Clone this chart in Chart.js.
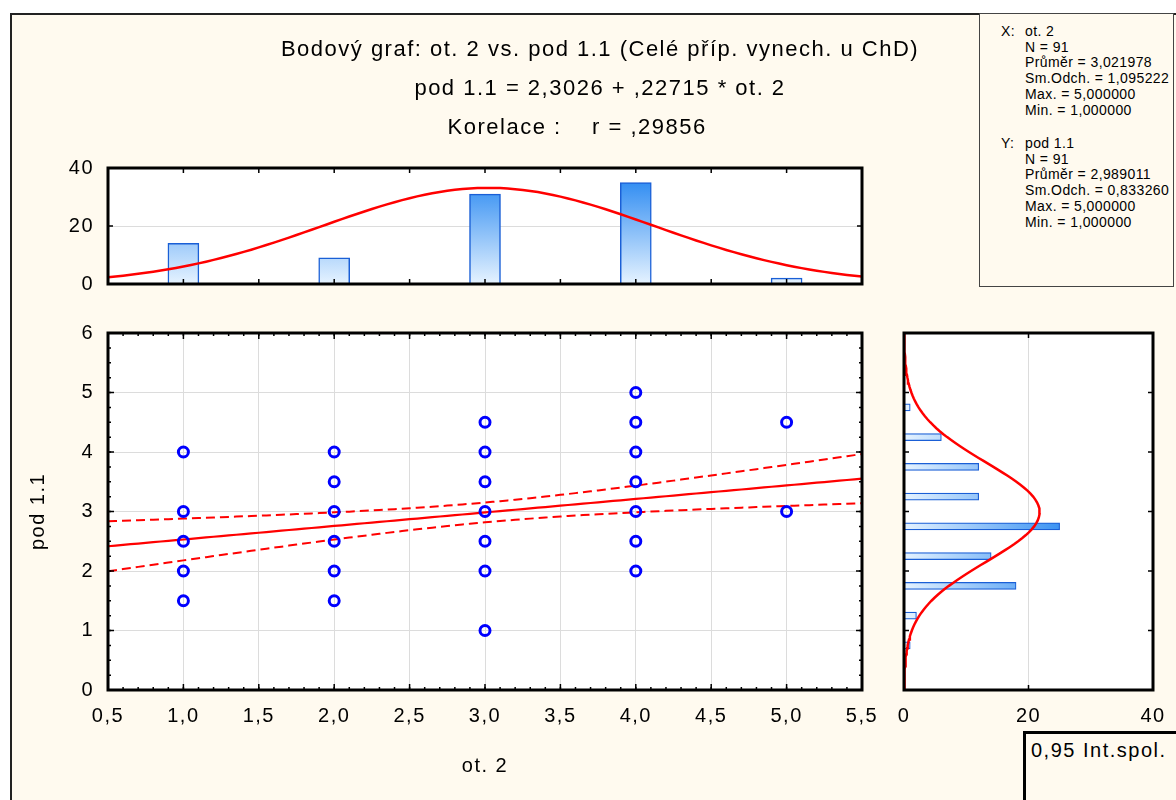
<!DOCTYPE html>
<html>
<head>
<meta charset="utf-8">
<script src="https://cdn.jsdelivr.net/npm/chart.js@4.4.0/dist/chart.umd.min.js"></script>
<style>
  body { margin: 0; width: 1176px; height: 800px; overflow: hidden; position: relative; background: #fff;
         font-family: "Liberation Sans", Arial, sans-serif; }
  #panel { position: absolute; left: 10px; top: 13px; width: 1166px; height: 787px; background: #fffaef;
           border-left: 2px solid #222; border-top: 2px solid #222; box-sizing: border-box; }
  canvas { position: absolute; }
  #stats { position: absolute; left: 979px; top: 13px; width: 195px; height: 274px; box-sizing: border-box;
           border: 1px solid #444; background: #fffaef; overflow: hidden; font-size: 14px; letter-spacing: 0.4px;
           line-height: 15.7px; white-space: nowrap; z-index: 2; }
  #stats .lab { position: absolute; left: 21px; }
  #stats .val { position: absolute; left: 45px; }
  #legendBox { position: absolute; left: 1023px; top: 731px; width: 153px; height: 69px; box-sizing: border-box;
               border-left: 3px solid #000; border-top: 3px solid #000; background: #fffaef;
               font-size: 20px; letter-spacing: 1.5px; line-height: 24px; padding: 4px 0 0 5px; z-index: 2; }
</style>
</head>
<body>
<div id="panel"></div>
<canvas id="topHist" width="1160" height="290" style="left:20px;top:14px"></canvas>
<canvas id="scatter" width="880" height="500" style="left:0;top:300px"></canvas>
<canvas id="rightHist" width="296" height="500" style="left:880px;top:300px"></canvas>
<div id="stats">
  <div class="lab" style="top:10px">X:</div>
  <div class="val" id="statX" style="top:10px"></div>
  <div class="lab" style="top:122px">Y:</div>
  <div class="val" id="statY" style="top:122px"></div>
</div>
<div id="legendBox">0,95 Int.spol.</div>
<script>
// values
const xValues = [1, 2, 3, 4, 5];
const xCounts = [14, 9, 31, 35, 2];
const yBinCenters = [0.75, 1.25, 1.75, 2.25, 2.75, 3.25, 3.75, 4.25, 4.75];
const yCounts = [1, 2, 18, 14, 25, 12, 12, 6, 1];
const pointX = [1, 1, 1, 1, 1,  2, 2, 2, 2, 2, 2,  3, 3, 3, 3, 3, 3, 3,  4, 4, 4, 4, 4, 4, 4,  5, 5];
const pointY = [4, 3, 2.5, 2, 1.5,  4, 3.5, 3, 2.5, 2, 1.5,  4.5, 4, 3.5, 3, 2.5, 2, 1,  5, 4.5, 4, 3.5, 3, 2.5, 2,  4.5, 3];

// statistics printed on the chart
const nObs = 91;
const xMean = 3.021978, xSd = 1.095222, xMax = 5, xMin = 1;
const yMean = 2.989011, ySd = 0.833260, yMax = 5, yMin = 1;
const intercept = 2.3026, slope = 0.22715, corr = 0.29856;
const xBinWidth = 1, yBinWidth = 0.5;
const tCrit = 1.987;

const titleLines = [
  "Bodový graf: ot. 2 vs. pod 1.1 (Celé příp. vynech. u ChD)",
  "pod 1.1 = 2,3026 + ,22715 * ot. 2",
  "Korelace :    r = ,29856      "
];

const comma = (v, d) => v.toFixed(d).replace(".", ",");
const statLines = (name, mean, sd, max, min) =>
  [name, "N = " + nObs, "Průměr = " + comma(mean, 6), "Sm.Odch. = " + comma(sd, 6),
   "Max. = " + comma(max, 6), "Min. = " + comma(min, 6)].join("<br>");
document.getElementById("statX").innerHTML = statLines("ot. 2", xMean, xSd, xMax, xMin);
document.getElementById("statY").innerHTML = statLines("pod 1.1", yMean, ySd, yMax, yMin);

// fitted curves
const normal = (v, m, s, scale) => scale * Math.exp(-((v - m) ** 2) / (2 * s * s));
const xPeak = nObs * xBinWidth / (xSd * Math.sqrt(2 * Math.PI));
const yPeak = nObs * yBinWidth / (ySd * Math.sqrt(2 * Math.PI));
const xSamples = Array.from({ length: 101 }, (_, i) => 0.5 + i * 0.05);
const ySamples = Array.from({ length: 121 }, (_, i) => i * 0.05);
const sRes = ySd * Math.sqrt((1 - corr * corr) * (nObs - 1) / (nObs - 2));
const sxx = (nObs - 1) * xSd * xSd;
const fit = x => intercept + slope * x;
const band = x => tCrit * sRes * Math.sqrt(1 / nObs + (x - xMean) ** 2 / sxx);

Chart.defaults.font.family = "'Liberation Sans', Arial, sans-serif";
Chart.defaults.font.size = 20;
Chart.defaults.color = "#000";

const framePlugin = {
  id: "frame",
  beforeDraw(chart) {
    const { ctx, chartArea: a } = chart;
    ctx.letterSpacing = "1.5px";
    ctx.save();
    ctx.fillStyle = "#fff";
    ctx.fillRect(a.left, a.top, a.width, a.height);
    ctx.restore();
  },
  afterDatasetsDraw(chart, args, opts) {
    const { ctx, chartArea: a, scales } = chart;
    ctx.save();
    ctx.strokeStyle = "#000";
    ctx.lineWidth = 1.5;
    (opts.marks || []).forEach(t => {
      const sc = scales[t.axis];
      const n = Math.round((sc.max - sc.min) / t.step);
      for (let i = 0; i <= n; i++) {
        const p = sc.getPixelForValue(sc.min + i * t.step);
        ctx.beginPath();
        if (sc.isHorizontal()) {
          ctx.moveTo(p, a.top); ctx.lineTo(p, a.top + t.len);
          ctx.moveTo(p, a.bottom); ctx.lineTo(p, a.bottom - t.len);
        } else {
          ctx.moveTo(a.left, p); ctx.lineTo(a.left + t.len, p);
          ctx.moveTo(a.right, p); ctx.lineTo(a.right - t.len, p);
        }
        ctx.stroke();
      }
    });
    ctx.lineWidth = 3;
    ctx.strokeRect(a.left, a.top, a.width, a.height);
    ctx.restore();
  }
};

// fixed axis sizes so the three plots line up; label overflow is left to the margins
const fixSize = (w, h) => s => {
  if (w !== null) s.width = w;
  if (h !== null) s.height = h;
  s.paddingLeft = s.paddingRight = s.paddingTop = s.paddingBottom = 0;
};
const gridAt = val => ctx => (ctx.tick && ctx.tick.value === val ? "#dcdcdc" : "rgba(0,0,0,0)");
const common = { responsive: false, animation: false, events: [] };

// top histogram of ot. 2
new Chart(document.getElementById("topHist"), {
  type: "bar",
  plugins: [framePlugin],
  data: {
    datasets: [{
      type: "line",
      data: xSamples.map(x => ({ x, y: normal(x, xMean, xSd, xPeak) })),
      borderColor: "#ff0000", borderWidth: 2.5, pointRadius: 0, tension: 0
    }, {
      data: xValues.map((x, i) => ({ x, y: xCounts[i] })),
      barThickness: 31,
      borderColor: "#1a5fd6", borderWidth: 1.5,
      backgroundColor: ctx => {
        const a = ctx.chart.chartArea;
        if (!a) return "#8ac0f8";
        const g = ctx.chart.ctx.createLinearGradient(0, a.top, 0, a.bottom);
        g.addColorStop(0, "#1a80f0");
        g.addColorStop(1, "#e6f3ff");
        return g;
      }
    }]
  },
  options: {
    ...common,
    layout: { padding: { bottom: 20 } },
    plugins: {
      legend: { display: false }, tooltip: { enabled: false },
      title: { display: true, text: titleLines, color: "#000",
               font: { size: 22, weight: "normal", lineHeight: 39 / 22 },
               padding: { top: 16.5, bottom: 20.5 } },
      frame: { marks: [{ axis: "x", step: 0.5, len: 5 }, { axis: "y", step: 20, len: 5 }] }
    },
    scales: {
      x: { type: "linear", min: 0.5, max: 5.5, offset: false, display: false },
      y: { min: 0, max: 40, ticks: { stepSize: 20, padding: 14 },
           grid: { color: gridAt(20), drawTicks: false }, border: { display: false },
           afterFit: fixSize(88, null) },
      yR: { position: "right", ticks: { display: false }, grid: { display: false, drawTicks: false },
            border: { display: false }, afterFit: fixSize(318, null) }
    }
  }
});

// main scatter plot
new Chart(document.getElementById("scatter"), {
  type: "scatter",
  plugins: [framePlugin],
  data: {
    datasets: [{
      data: pointX.map((x, i) => ({ x, y: pointY[i] })),
      pointRadius: 5, pointBorderWidth: 3, borderColor: "#0000ff", backgroundColor: "rgba(0,0,0,0)"
    }, {
      data: xSamples.map(x => ({ x, y: fit(x) })),
      showLine: true, pointRadius: 0, borderColor: "#ff0000", borderWidth: 2.2
    }, {
      data: xSamples.map(x => ({ x, y: fit(x) + band(x) })),
      showLine: true, pointRadius: 0, borderColor: "#ff0000", borderWidth: 2, borderDash: [9, 5]
    }, {
      data: xSamples.map(x => ({ x, y: fit(x) - band(x) })),
      showLine: true, pointRadius: 0, borderColor: "#ff0000", borderWidth: 2, borderDash: [9, 5]
    }]
  },
  options: {
    ...common,
    layout: { padding: { top: 33, right: 18 } },
    plugins: {
      legend: { display: false }, tooltip: { enabled: false },
      frame: { marks: [{ axis: "x", step: 0.1, len: 3 }, { axis: "x", step: 0.5, len: 6 },
                       { axis: "y", step: 0.25, len: 3 }, { axis: "y", step: 1, len: 6 }] }
    },
    scales: {
      x: { type: "linear", min: 0.5, max: 5.5,
           ticks: { stepSize: 0.5, padding: 14, maxRotation: 0, autoSkip: false, callback: v => comma(v, 1) },
           grid: { color: "#dcdcdc", drawTicks: false }, border: { display: false },
           title: { display: true, text: "ot. 2", font: { size: 20 }, padding: { bottom: 22 } },
           afterFit: fixSize(null, 110) },
      y: { min: 0, max: 6, ticks: { stepSize: 1, padding: 14 },
           grid: { color: "#dcdcdc", drawTicks: false }, border: { display: false },
           title: { display: true, text: "pod 1.1", font: { size: 20 }, padding: { top: 26 } },
           afterFit: fixSize(108, null) }
    }
  }
});

// right histogram of pod 1.1
new Chart(document.getElementById("rightHist"), {
  type: "bar",
  plugins: [framePlugin],
  data: {
    datasets: [{
      type: "line",
      data: ySamples.map(y => ({ x: normal(y, yMean, ySd, yPeak), y })),
      borderColor: "#ff0000", borderWidth: 2.5, pointRadius: 0, tension: 0
    }, {
      data: yBinCenters.map((y, i) => ({ x: yCounts[i], y })),
      barThickness: 7,
      borderColor: "#1a5fd6", borderWidth: 1.2, borderSkipped: "start",
      backgroundColor: ctx => {
        const a = ctx.chart.chartArea;
        if (!a) return "#8ac0f8";
        const g = ctx.chart.ctx.createLinearGradient(a.left, 0, a.left + a.width * 0.75, 0);
        g.addColorStop(0, "#e6f3ff");
        g.addColorStop(1, "#1a80f0");
        return g;
      }
    }]
  },
  options: {
    ...common,
    indexAxis: "y",
    layout: { padding: { top: 33, left: 24, right: 23 } },
    plugins: {
      legend: { display: false }, tooltip: { enabled: false },
      frame: { marks: [{ axis: "x", step: 20, len: 5 }, { axis: "y", step: 1, len: 5 }] }
    },
    scales: {
      x: { type: "linear", position: "bottom", min: 0, max: 40,
           ticks: { stepSize: 20, padding: 14, maxRotation: 0 },
           grid: { color: gridAt(20), drawTicks: false }, border: { display: false },
           afterFit: fixSize(null, 110) },
      y: { type: "linear", min: 0, max: 6, offset: false, display: false }
    }
  }
});
</script>
</body>
</html>
